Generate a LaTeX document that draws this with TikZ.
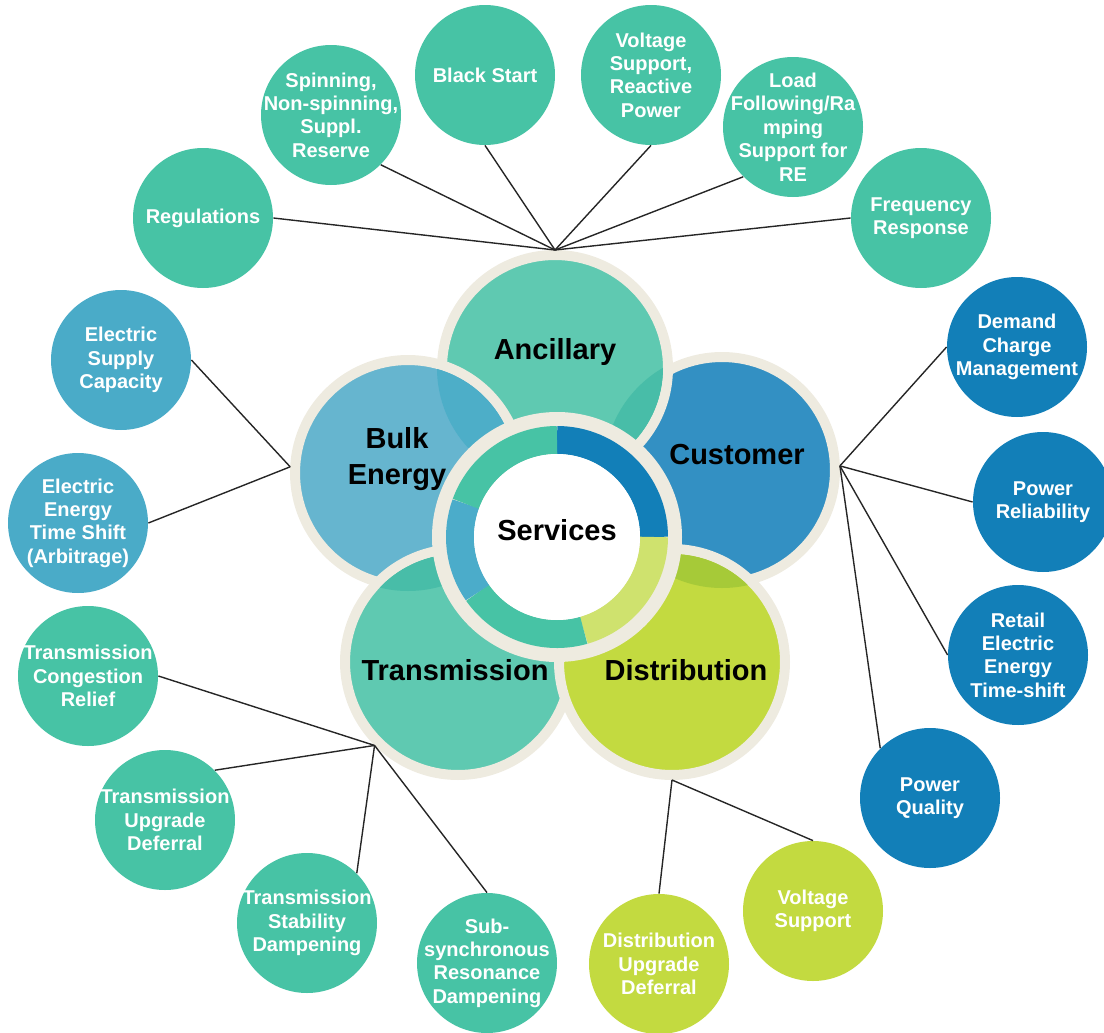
\documentclass[tikz,border=0pt]{standalone}
\usepackage{fontspec}
\setmainfont{Liberation Sans}
\usetikzlibrary{positioning}

\definecolor{leafteal}{HTML}{47C3A5}
\definecolor{leafblue}{HTML}{4AABC8}
\definecolor{leafnavy}{HTML}{127FB8}
\definecolor{leaflime}{HTML}{C3DA40}
\definecolor{petalteal}{HTML}{5FC9B1}
\definecolor{petalsky}{HTML}{66B5CF}
\definecolor{petalblue}{HTML}{3390C3}
\definecolor{petallime}{HTML}{C3DA40}
\definecolor{petalrim}{HTML}{EEEBE0}
\definecolor{ringlime}{HTML}{CFE26E}
\definecolor{ringsky}{HTML}{4BACCA}
\definecolor{shadeteal}{HTML}{48BDA8}
\definecolor{shadesky}{HTML}{4DAEC8}
\definecolor{shadelime}{HTML}{A6CA38}

\tikzset{
  leaf/.style={circle, minimum size=70pt, inner sep=0pt, fill=#1},
  leaftext/.style={text=white, align=center, inner sep=0pt,
    font=\bfseries\fontsize{10}{11.7}\selectfont},
  petal/.style={circle, minimum size=113pt, inner sep=0pt, fill=#1,
    draw=petalrim, line width=5pt},
  bigtext/.style={text=black, align=center, inner sep=0pt,
    font=\bfseries\fontsize{14.5}{18}\selectfont},
  link/.style={draw=black!85, line width=0.7pt},
  ringpart/.style={line width=14pt, draw=#1}
}

% one service circle: name, position, colour, text
\newcommand{\leaf}[4]{%
  \node[leaf=#3] (#1) at (#2) {};
  \node[leaftext] (#1-t) at (#1) {#4};}

% darker patch where petal #2 lies under petal #1
\newcommand{\overlap}[3]{%
  \begin{scope}
    \clip (#1) circle[radius=54pt];
    \fill[#3] (#2) circle[radius=59pt];
  \end{scope}}

% one part of the inner ring: from angle, to angle, colour
\newcommand{\ringarc}[3]{%
  \draw[ringpart=#3] ([shift={(#1:48.5pt)}]core.center)
    arc[start angle=#1, end angle=#2, radius=48.5pt];}

\begin{document}
\begin{tikzpicture}[x=0.5pt, y=-0.5pt]
\useasboundingbox (0,0) rectangle (1104,1033);

% the five petals
\node[petal=petalblue] (cus) at (722,470) {};
\node[petal=petalteal] (anc) at (555,368) {};
\overlap{anc}{cus}{shadeteal}
\node[petal=petalsky]  (blk) at (408,473) {};
\overlap{blk}{anc}{shadesky}
\node[petal=petalteal] (tra) at (458,662) {};
\overlap{tra}{blk}{shadeteal}
\node[petal=petallime] (dis) at (672,662) {};
\overlap{dis}{cus}{shadelime}

% centre ring
\node[circle, fill=petalrim, minimum size=125pt, inner sep=0pt] (rim) at (557,537) {};
\coordinate (core) at (557,537);
\ringarc{90}{0}{leafnavy}
\ringarc{0}{-74}{ringlime}
\ringarc{-74}{-145}{leafteal}
\ringarc{-145}{-200}{ringsky}
\ringarc{160}{90}{leafteal}
\node[circle, fill=white, minimum size=83pt, inner sep=0pt] (hole) at (557,537) {};

\node[bigtext] (srv-t) at (557,530) {Services};
\node[bigtext] (anc-t) at (555,352) {Ancillary};
\node[bigtext] (blk-t) at (397,459) {Bulk\\Energy};
\node[bigtext] (cus-t) at (737,455) {Customer};
\node[bigtext] (tra-t) at (455,670) {Transmission};
\node[bigtext] (dis-t) at (686,670) {Distribution};

% ancillary services
\leaf{reg}{203,218}{leafteal}{Regulations}
\leaf{spin}{331,115}{leafteal}{Spinning,\\Non-spinning,\\Suppl.\\Reserve}
\leaf{bls}{485,75}{leafteal}{Black Start}
\leaf{vsr}{651,75}{leafteal}{Voltage\\Support,\\Reactive\\Power}
\leaf{lfr}{793,127}{leafteal}{Load\\Following/Ra\\mping\\Support for\\RE}
\leaf{frq}{921,218}{leafteal}{Frequency\\Response}

% bulk energy services
\leaf{esc}{121,360}{leafblue}{Electric\\Supply\\Capacity}
\leaf{ets}{78,523}{leafblue}{Electric\\Energy\\Time Shift\\(Arbitrage)}

% customer services
\leaf{dcm}{1017,347}{leafnavy}{Demand\\Charge\\Management}
\leaf{prl}{1043,502}{leafnavy}{Power\\Reliability}
\leaf{rts}{1018,655}{leafnavy}{Retail\\Electric\\Energy\\Time-shift}
\leaf{pqu}{930,798}{leafnavy}{Power\\Quality}

% transmission services
\leaf{tcr}{88,676}{leafteal}{Transmission\\Congestion\\Relief}
\leaf{tud}{165,820}{leafteal}{Transmission\\Upgrade\\Deferral}
\leaf{tsd}{307,923}{leafteal}{Transmission\\Stability\\Dampening}
\leaf{ssr}{487,963}{leafteal}{Sub-\\synchronous\\Resonance\\Dampening}

% distribution services
\leaf{dud}{659,964}{leaflime}{Distribution\\Upgrade\\Deferral}
\leaf{dvs}{813,911}{leaflime}{Voltage\\Support}

% links
\draw[link] (reg.east) -- (anc.90);
\draw[link] (spin.-45) -- (anc.90);
\draw[link] (bls.south) -- (anc.90);
\draw[link] (vsr.south) -- (anc.90);
\draw[link] (lfr.-135) -- (anc.90);
\draw[link] (frq.west) -- (anc.90);

\draw[link] (esc.east) -- (blk.177);
\draw[link] (ets.east) -- (blk.177);

\draw[link] (dcm.west) -- (cus.2);
\draw[link] (prl.west) -- (cus.2);
\draw[link] (rts.west) -- (cus.2);
\draw[link] (pqu.135) -- (cus.2);

\draw[link] (tcr.east) -- (tra.-135);
\draw[link] (tud.45) -- (tra.-135);
\draw[link] (tsd.45) -- (tra.-135);
\draw[link] (ssr.north) -- (tra.-135);

\draw[link] (dud.north) -- (dis.-90);
\draw[link] (dvs.north) -- (dis.-90);
\end{tikzpicture}
\end{document}
